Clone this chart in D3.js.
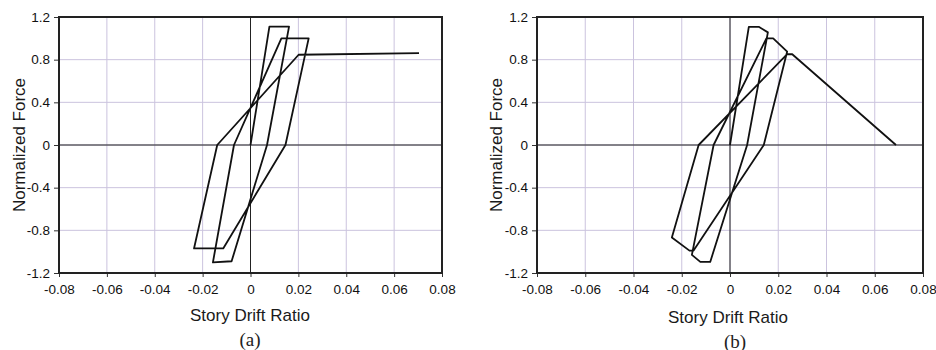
<!DOCTYPE html>
<html>
<head>
<meta charset="utf-8">
<script src="https://cdn.jsdelivr.net/npm/d3@7"></script>
<style>
  html, body { margin: 0; padding: 0; background: #fff; }
  svg { display: block; }
</style>
</head>
<body>
<svg id="chart" width="936" height="350"></svg>
<script>
// ---- data ----
const xTicks = [-0.08, -0.06, -0.04, -0.02, 0, 0.02, 0.04, 0.06, 0.08];
const xTickLabels = ["-0.08", "-0.06", "-0.04", "-0.02", "0", "0.02", "0.04", "0.06", "0.08"];
const yTicks = [-1.2, -0.8, -0.4, 0, 0.4, 0.8, 1.2];
const yTickLabels = ["-1.2", "-0.8", "-0.4", "0", "0.4", "0.8", "1.2"];

// panel (a)
const driftA = [0, 0.0079, 0.0161, 0.0069, -0.0079, -0.0157, -0.0069, 0.0129, 0.0243, 0.0146, -0.0114, -0.0236, -0.0139, 0.0201, 0.0704];
const forceA = [0, 1.11, 1.11, 0, -1.09, -1.10, 0, 1.0, 1.0, 0, -0.97, -0.97, 0, 0.846, 0.862];

// panel (b)
const driftB = [0, 0.0078, 0.0119, 0.0157, 0.0071, -0.0082, -0.0123, -0.0158, -0.0068, 0.0151, 0.0179, 0.0237, 0.0140, -0.0151, -0.0168, -0.0241, -0.0130, 0.0237, 0.0258, 0.0688];
const forceB = [0, 1.108, 1.108, 1.056, 0, -1.096, -1.096, -1.03, 0, 1.0, 1.0, 0.876, 0, -0.99, -0.99, -0.867, 0, 0.851, 0.851, 0];

const svg = d3.select("#chart");

function panel(opts) {
  const { left, right, top, bottom, xs, ys, yTitleX, xTitleY, xTitleX, capX, capY, cap } = opts;
  const x = d3.scaleLinear().domain([-0.08, 0.08]).range([left, right]);
  const y = d3.scaleLinear().domain([-1.2, 1.2]).range([bottom, top]);
  const g = svg.append("g");

  // grid
  g.append("g").selectAll("line.gx").data(xTicks).join("line")
    .attr("x1", d => x(d)).attr("x2", d => x(d))
    .attr("y1", top).attr("y2", bottom)
    .attr("stroke", "#cbc3de").attr("stroke-width", 1);
  g.append("g").selectAll("line.gy").data(yTicks).join("line")
    .attr("x1", left).attr("x2", right)
    .attr("y1", d => y(d)).attr("y2", d => y(d))
    .attr("stroke", "#cbc3de").attr("stroke-width", 1);

  // zero lines
  g.append("line").attr("x1", x(0)).attr("x2", x(0)).attr("y1", top).attr("y2", bottom)
    .attr("stroke", "#222").attr("stroke-width", 1);
  g.append("line").attr("x1", left).attr("x2", right).attr("y1", y(0)).attr("y2", y(0))
    .attr("stroke", "#222").attr("stroke-width", 1);

  // curve
  const pts = xs.map((d, i) => [d, ys[i]]);
  g.append("path").datum(pts)
    .attr("d", d3.line().x(d => x(d[0])).y(d => y(d[1])))
    .attr("fill", "none").attr("stroke", "#111").attr("stroke-width", 1.8)
    .attr("stroke-linejoin", "round");

  // axes
  const xAxis = d3.axisBottom(x).tickValues(xTicks)
    .tickFormat((d, i) => xTickLabels[i]).tickSize(4).tickSizeOuter(0).tickPadding(7);
  const yAxis = d3.axisLeft(y).tickValues(yTicks)
    .tickFormat((d, i) => yTickLabels[i]).tickSize(5).tickSizeOuter(0).tickPadding(4);
  const gx = g.append("g").attr("transform", `translate(0,${bottom})`).call(xAxis);
  const gy = g.append("g").attr("transform", `translate(${left},0)`).call(yAxis);
  [gx, gy].forEach(a => {
    a.select(".domain").remove();
    a.selectAll(".tick line").attr("stroke", "#333").attr("stroke-width", 1);
    a.selectAll(".tick text").attr("fill", "#111")
      .style("font-family", "'Liberation Sans', Arial, sans-serif").style("font-size", "13.5px");
  });

  // frame
  g.append("rect").attr("x", left).attr("y", top)
    .attr("width", right - left).attr("height", bottom - top)
    .attr("fill", "none").attr("stroke", "#222").attr("stroke-width", 2);

  // titles
  g.append("text")
    .attr("transform", `translate(${yTitleX},${(top + bottom) / 2}) rotate(-90)`)
    .attr("text-anchor", "middle").attr("dominant-baseline", "central")
    .style("font-family", "'Liberation Sans', Arial, sans-serif").style("font-size", "17px")
    .attr("fill", "#1a1a1a").text("Normalized Force");
  g.append("text")
    .attr("x", xTitleX).attr("y", xTitleY)
    .attr("text-anchor", "middle").attr("dominant-baseline", "central")
    .style("font-family", "'Liberation Sans', Arial, sans-serif").style("font-size", "17px")
    .attr("fill", "#1a1a1a").text("Story Drift Ratio");
  g.append("text")
    .attr("x", capX).attr("y", capY)
    .attr("text-anchor", "middle").attr("dominant-baseline", "central")
    .style("font-family", "'Liberation Serif', 'Times New Roman', serif").style("font-size", "19px")
    .attr("fill", "#222").text(cap);
}

panel({ left: 59, right: 442, top: 17, bottom: 273, xs: driftA, ys: forceA,
        yTitleX: 19, xTitleX: 250, xTitleY: 315, capX: 250, capY: 339, cap: "(a)" });
panel({ left: 537, right: 923, top: 17, bottom: 273, xs: driftB, ys: forceB,
        yTitleX: 496, xTitleX: 728, xTitleY: 317, capX: 735, capY: 341, cap: "(b)" });
</script>
</body>
</html>
